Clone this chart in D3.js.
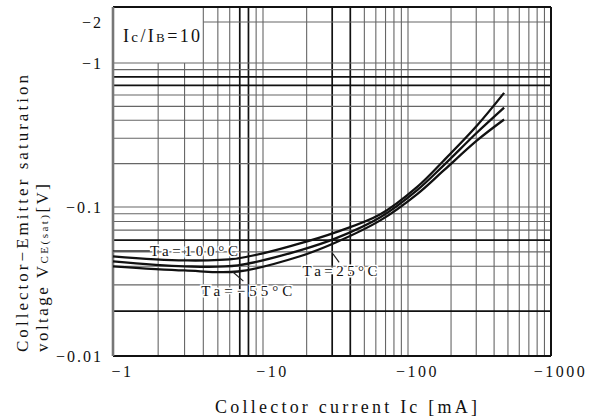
<!DOCTYPE html>
<html>
<head>
<meta charset="utf-8">
<script src="https://d3js.org/d3.v7.min.js"></script>
<style>
body { margin: 0; background: #fff; }
text { font-family: "Liberation Serif", "DejaVu Serif", serif; fill: #111; }
</style>
</head>
<body>
<script>
// collector current magnitude (mA) where the curves were read
var icVals = [1, 3, 6.8, 18, 32, 64, 116, 176, 304, 470];
// VCE(sat) magnitude (V) for each temperature
var vTa100 = [0.0467, 0.0438, 0.0452, 0.057, 0.0678, 0.089, 0.138, 0.208, 0.368, 0.62];
var vTa25  = [0.0432, 0.0400, 0.0406, 0.0512, 0.0618, 0.085, 0.131, 0.193, 0.329, 0.49];
var vTaM55 = [0.0400, 0.0375, 0.0369, 0.0467, 0.058, 0.081, 0.123, 0.178, 0.290, 0.405];

var xLabels = [1, 10, 100, 1000];
var yLabels = [2, 1, 0.1, 0.01];
var xThick = [7, 8, 30, 40];
var yThick = [0.02, 0.06, 0.7, 0.8];

// curve labels (position in data units)
var annoText = ["Ta=100°C", "Ta=25°C", "Ta=\u221255°C"];
var annoIc = [3.47, 34, 7.8];
var annoV = [0.0505, 0.0372, 0.0273];
var annoLen = [88, 75, 91];
// leader lines [ic1, v1, ic2, v2]
var leaders = [
	[1, 0.0507, 1.76, 0.0507],
	[30.4, 0.0484, 33.5, 0.0425],
	[6.3, 0.0366, 7.4, 0.0318]
];

var width = 600, height = 419;
var plot = {left: 113, right: 551, top: 7, bottom: 356};

// scanned sheet: decades are not all the same width
var x = d3.scaleLog().domain([1, 10, 100, 1000]).range([113, 263, 408, 551]);
var y = d3.scaleLog().domain([0.01, 0.1, 1, 2]).range([356, 207, 63, 22]);

var svg = d3.select("body").append("svg")
	.attr("width", width)
	.attr("height", height);

// grid
var grid = svg.append("g");
x.ticks().filter(function(d) { return d > 1 && d < 1000; }).forEach(function(d) {
	var thick = xThick.indexOf(d) >= 0;
	grid.append("line")
		.attr("x1", x(d)).attr("x2", x(d))
		.attr("y1", d < 4 ? y(1) : plot.top)
		.attr("y2", plot.bottom)
		.attr("stroke", thick ? "#111" : "#666")
		.attr("stroke-width", thick ? 1.7 : 1.1);
});
y.ticks().filter(function(d) { return d > 0.0101 && d < 2.5; }).forEach(function(d) {
	var thick = yThick.some(function(t) { return Math.abs(t - d) < 1e-9; });
	grid.append("line")
		.attr("x1", d > 1.5 ? x(4) : plot.left)
		.attr("x2", plot.right)
		.attr("y1", y(d)).attr("y2", y(d))
		.attr("stroke", thick ? "#111" : "#666")
		.attr("stroke-width", thick ? 1.7 : 1.1);
});

// frame
svg.append("line").attr("x1", plot.left).attr("x2", plot.right).attr("y1", plot.top).attr("y2", plot.top)
	.attr("stroke", "#111").attr("stroke-width", 2);
svg.append("line").attr("x1", plot.left).attr("x2", plot.right).attr("y1", plot.bottom).attr("y2", plot.bottom)
	.attr("stroke", "#111").attr("stroke-width", 2);
svg.append("line").attr("x1", plot.right).attr("x2", plot.right).attr("y1", plot.top).attr("y2", plot.bottom)
	.attr("stroke", "#111").attr("stroke-width", 2);
svg.append("line").attr("x1", plot.left).attr("x2", plot.left).attr("y1", plot.top).attr("y2", plot.bottom)
	.attr("stroke", "#777").attr("stroke-width", 2.6);

// curves
var line = d3.line()
	.x(function(d) { return x(d[0]); })
	.y(function(d) { return y(d[1]); })
	.curve(d3.curveCatmullRom.alpha(0.5));

[vTa100, vTa25, vTaM55].forEach(function(vals) {
	svg.append("path")
		.datum(icVals.map(function(ic, i) { return [ic, vals[i]]; }))
		.attr("d", line)
		.attr("fill", "none")
		.attr("stroke", "#111")
		.attr("stroke-width", 2.3);
});

// leaders
leaders.forEach(function(l) {
	svg.append("line")
		.attr("x1", x(l[0])).attr("y1", y(l[1]))
		.attr("x2", x(l[2])).attr("y2", y(l[3]))
		.attr("stroke", "#222").attr("stroke-width", 1.2);
});

// curve labels
annoText.forEach(function(t, i) {
	svg.append("text")
		.attr("x", x(annoIc[i]))
		.attr("y", y(annoV[i]))
		.attr("dy", "0.35em")
		.attr("text-anchor", "middle")
		.attr("font-size", 15)
		.attr("textLength", annoLen[i])
		.attr("lengthAdjust", "spacing")
		.attr("stroke", "#fff")
		.attr("stroke-width", 3)
		.attr("paint-order", "stroke")
		.text(t);
});

// Ic/IB box label
var cond = svg.append("text")
	.attr("x", 123).attr("y", 42)
	.attr("font-size", 18)
	.attr("textLength", 77)
	.attr("lengthAdjust", "spacing");
cond.append("tspan").text("I");
cond.append("tspan").attr("font-size", 15).text("c");
cond.append("tspan").text("/I");
cond.append("tspan").attr("font-size", 13).text("B");
cond.append("tspan").text("=10");

// axes (labels only)
var xAxis = svg.append("g")
	.attr("transform", "translate(0," + plot.bottom + ")")
	.call(d3.axisBottom(x).tickValues(xLabels).tickSize(0).tickPadding(10)
		.tickFormat(function(d) { return "\u2212" + d; }));
xAxis.select(".domain").remove();
xAxis.selectAll("text")
	.attr("font-size", 16)
	.attr("dx", 9)
	.style("letter-spacing", "2.5px")
	.attr("fill", "#111");

var yAxis = svg.append("g")
	.attr("transform", "translate(" + plot.left + ",0)")
	.call(d3.axisLeft(y).tickValues(yLabels).tickSize(0).tickPadding(10)
		.tickFormat(function(d) { return "\u2212" + d; }));
yAxis.select(".domain").remove();
yAxis.selectAll("text")
	.attr("font-size", 16)
	.style("letter-spacing", "2px")
	.attr("fill", "#111");

// axis titles
svg.append("text")
	.attr("x", 215).attr("y", 413)
	.attr("font-size", 18)
	.attr("textLength", 262)
	.attr("lengthAdjust", "spacing")
	.text("Collector current Ic [mA]");

svg.append("text")
	.attr("transform", "translate(28,352) rotate(-90)")
	.attr("font-size", 17)
	.attr("textLength", 277)
	.attr("lengthAdjust", "spacing")
	.text("Collector\u2212Emitter saturation");

var yt2 = svg.append("text")
	.attr("transform", "translate(48,352) rotate(-90)")
	.attr("font-size", 17)
	.attr("textLength", 168)
	.attr("lengthAdjust", "spacing");
yt2.append("tspan").text("voltage  V");
yt2.append("tspan").attr("font-size", 11).text("CE(sat)");
yt2.append("tspan").text("[V]");
</script>
</body>
</html>
